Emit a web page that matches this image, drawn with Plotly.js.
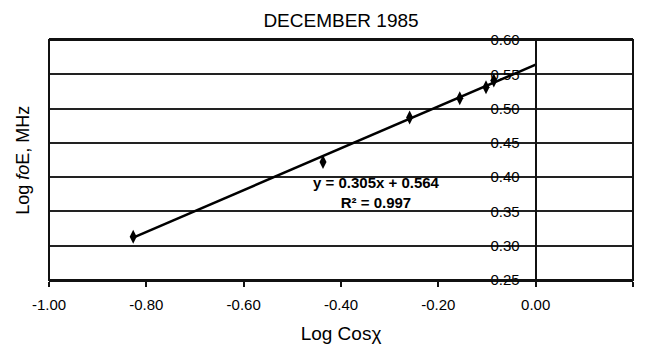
<!DOCTYPE html>
<html>
<head>
<meta charset="utf-8">
<script src="https://cdn.plot.ly/plotly-3.0.1.min.js"></script>
<style>html,body{margin:0;padding:0;background:#fff;}#chart{width:647px;height:344px;}</style>
</head>
<body>
<div id="chart"></div>
<script>
// Data
const logCosChi = [-0.827, -0.437, -0.259, -0.156, -0.102, -0.086];
const logFoE    = [0.313, 0.422, 0.487, 0.515, 0.531, 0.541];
// Linear trendline shown on chart: y = 0.305x + 0.564, R² = 0.997
const slope = 0.305;
const intercept = 0.564;
const rSquared = 0.997;
const trendXRange = [-0.827, 0.0];
const xTickVals = [-1.0, -0.8, -0.6, -0.4, -0.2, 0.0, 0.2];
const xTickText = ['-1.00', '-0.80', '-0.60', '-0.40', '-0.20', '0.00', '0.20'];
const yTickVals = [0.25, 0.30, 0.35, 0.40, 0.45, 0.50, 0.55, 0.60];
const yTickText = ['0.25', '0.30', '0.35', '0.40', '0.45', '0.50', '0.55', '0.60'];

const trendY = trendXRange.map(x => slope * x + intercept);
const FONT = "Arial, 'Liberation Sans', sans-serif";

const traces = [
  {
    x: trendXRange, y: trendY, mode: 'lines', type: 'scatter',
    line: {color: '#000', width: 2.5}, hoverinfo: 'skip', showlegend: false
  },
  {
    x: logCosChi, y: logFoE, mode: 'markers', type: 'scatter',
    marker: {symbol: 'diamond-tall', size: 10, color: '#000'}, showlegend: false
  }
];

const layout = {
  width: 647, height: 344,
  margin: {l: 49, r: 14, t: 40, b: 64},
  paper_bgcolor: '#fff', plot_bgcolor: '#fff',
  font: {family: FONT, color: '#000', size: 15},
  showlegend: false,
  title: {text: 'DECEMBER 1985', font: {size: 19, family: FONT, color: '#000'},
          x: 0.5, xref: 'paper', y: 1 - 20/344, yref: 'container', yanchor: 'middle'},
  xaxis: {
    range: [-1.0, 0.2], tickvals: xTickVals, ticktext: xTickText,
    showgrid: false, zeroline: false,
    showline: true, linecolor: '#111', linewidth: 2, mirror: true,
    ticks: 'outside', ticklen: 5, tickwidth: 2, tickcolor: '#111',
    ticklabelstandoff: 5,
    tickfont: {size: 15, family: FONT, color: '#000'},
    title: {text: 'Log Cosχ', font: {size: 19, family: FONT, color: '#000'}, standoff: 16}
  },
  yaxis: {
    range: [0.25, 0.60], tickvals: yTickVals, ticktext: yTickText,
    anchor: 'free', position: 1/1.2, side: 'left',
    showgrid: true, gridcolor: '#222', gridwidth: 2,
    zeroline: false, showline: true, linecolor: '#111', linewidth: 2,
    ticks: '', ticklabelstandoff: 12,
    tickfont: {size: 15, family: FONT, color: '#000'}
  },
  shapes: [
    {type: 'rect', xref: 'paper', yref: 'paper', x0: 0, x1: 1, y0: 0, y1: 1,
     line: {color: '#111', width: 2}, fillcolor: 'rgba(0,0,0,0)'}
  ],
  annotations: [
    {text: 'Log <i>fo</i>E, MHz', xref: 'paper', yref: 'paper', x: -0.045, y: 0.5,
     xanchor: 'center', yanchor: 'middle', textangle: -90, showarrow: false,
     font: {size: 18, family: FONT, color: '#000'}},
    {text: '<b>y = ' + slope.toFixed(3) + 'x + ' + intercept.toFixed(3) + '</b><br><b>R² = ' + rSquared.toFixed(3) + '</b>',
     xref: 'x', yref: 'y', x: -0.327, y: 0.377, xanchor: 'center', yanchor: 'middle',
     showarrow: false, align: 'center', font: {size: 15, family: FONT, color: '#000'}}
  ]
};

Plotly.newPlot('chart', traces, layout, {displayModeBar: false, staticPlot: true});
</script>
</body>
</html>
